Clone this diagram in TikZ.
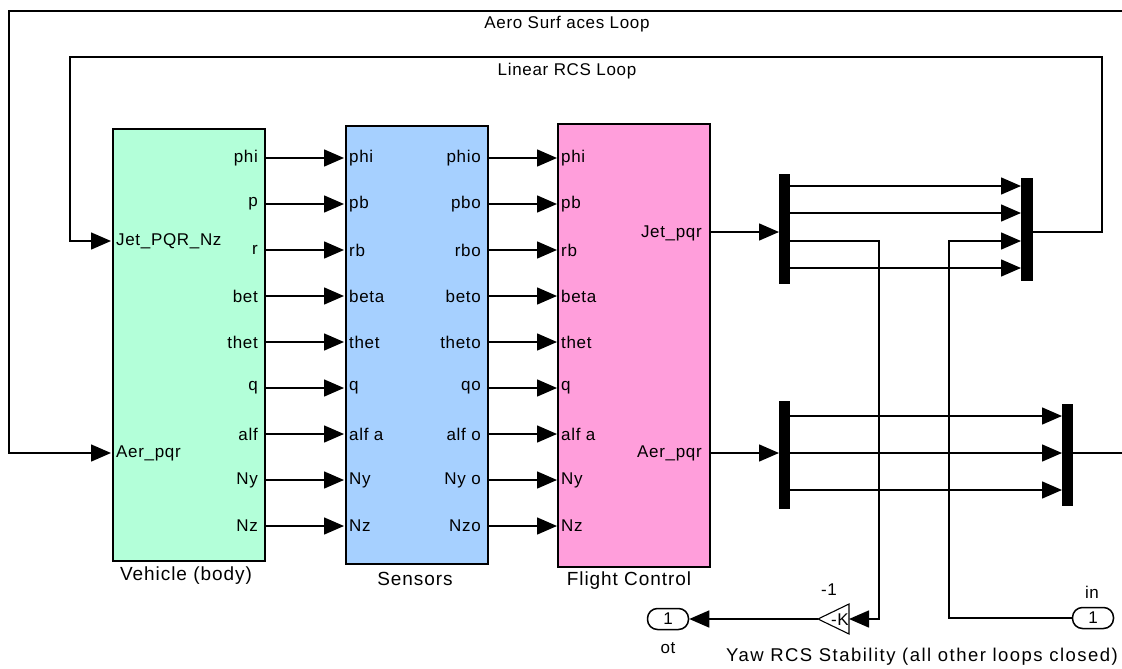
\documentclass[tikz,border=0pt]{standalone}
\usepackage{fontspec}
\setmainfont{Liberation Sans}
\usetikzlibrary{arrows.meta,shapes.geometric}
\definecolor{vgreen}{RGB}{179,255,217}
\definecolor{sblue}{RGB}{166,208,255}
\definecolor{fpink}{RGB}{255,158,219}
\tikzset{
  wire/.style={line width=1.5pt},
  sig/.style={wire,-{Triangle[length=20pt,width=17pt]}},
  blk/.style={draw,line width=2pt,inner sep=0pt,anchor=north west},
  barblk/.style={fill=black,draw=none,inner sep=0pt,anchor=north west,minimum width=11pt},
  plbl/.style={font=\fontsize{17}{19}\selectfont\addfontfeature{LetterSpace=4},inner sep=0pt},
  tlbl/.style={font=\fontsize{17}{19}\selectfont\addfontfeature{LetterSpace=4},inner sep=0pt},
  blbl/.style={font=\fontsize{19}{21}\selectfont\addfontfeature{LetterSpace=5},inner sep=0pt},
  captxt/.style={font=\fontsize{18.5}{20}\selectfont\addfontfeature{LetterSpace=8},inner sep=0pt},
  portblk/.style={draw,line width=1.5pt,rounded corners=10pt,minimum width=41pt,minimum height=21pt,inner sep=0pt,font=\fontsize{17}{19}\selectfont},
}
\begin{document}
\begin{tikzpicture}[x=1pt,y=-1pt]
\useasboundingbox (0,0) rectangle (1122,669);

% blocks
\node[blk,fill=vgreen,minimum width=152pt,minimum height=432pt] (veh) at (112,128) {};
\node[blk,fill=sblue,minimum width=142pt,minimum height=438pt] (sen) at (345,125) {};
\node[blk,fill=fpink,minimum width=152pt,minimum height=443pt] (fc) at (557,123) {};

\node[blbl] (vehlbl) at (186,576) {Vehicle (body)};
\node[blbl] (senlbl) at (415,579) {Sensors};
\node[blbl] (fclbl) at (629,581) {Flight Control};

% ports and labels
\foreach \i/\y/\a/\b/\c/\d in {1/158/phi/phi/phio/phi, 2/204/p/pb/pbo/pb, 3/250/r/rb/rbo/rb,
  4/296/bet/beta/beto/beta, 5/342/thet/thet/theto/thet, 6/388/q/q/qo/q,
  7/434/alf/alf a/alf o/alf a, 8/480/Ny/Ny/Ny o/Ny, 9/526/Nz/Nz/Nzo/Nz}{
  \coordinate (veh-o\i) at (264,\y);
  \coordinate (sen-i\i) at (344,\y);
  \coordinate (sen-o\i) at (487,\y);
  \coordinate (fc-i\i) at (557,\y);
  \node[plbl,anchor=east] (veh-ol\i) at (258,\y) {\a};
  \node[plbl,anchor=west] (sen-il\i) at (349,\y) {\b};
  \node[plbl,anchor=east] (sen-ol\i) at (481,\y) {\c};
  \node[plbl,anchor=west] (fc-il\i) at (561,\y) {\d};
  \draw[sig] (veh-o\i) -- (sen-i\i);
  \draw[sig] (sen-o\i) -- (fc-i\i);
}

\coordinate (veh-jet) at (111,241);
\coordinate (veh-aer) at (111,453);
\node[plbl,anchor=west] (veh-jetl) at (116,241) {Jet\_PQR\_Nz};
\node[plbl,anchor=west] (veh-aerl) at (116,453) {Aer\_pqr};

\coordinate (fc-jet) at (709,232);
\coordinate (fc-aer) at (709,453);
\node[plbl,anchor=east] (fc-jetl) at (702,233) {Jet\_pqr};
\node[plbl,anchor=east] (fc-aerl) at (702,453) {Aer\_pqr};

% mux / demux bars
\node[barblk,minimum height=110pt] (dm1) at (779,174) {};
\node[barblk,minimum width=12pt,minimum height=103pt] (mx1) at (1021,178) {};
\node[barblk,minimum height=108pt] (dm2) at (779,401) {};
\node[barblk,minimum height=102pt] (mx2) at (1062,404) {};

\draw[sig] (fc-jet) -- (dm1.west |- fc-jet);
\draw[sig] (fc-aer) -- (dm2.west |- fc-aer);

\foreach \y in {186,213,268}{
  \draw[sig] (dm1.east |- 0,\y) -- (mx1.west |- 0,\y);
}
\foreach \y in {416,453,490}{
  \draw[sig] (dm2.east |- 0,\y) -- (mx2.west |- 0,\y);
}

% gain block (triangle pointing left)
\coordinate (gain-apex) at (818,619);
\coordinate (gain-in) at (849,619);
\draw[line width=1.1pt,fill=white,line join=miter] (gain-apex) -- (849,604) -- (849,634) -- cycle;
\node[plbl] (gainlbl) at (829,590) {-1};

\node[portblk] (outp) at (668,619) {1};
\node[plbl] (outlbl) at (668,648) {ot};
\node[portblk] (inp) at (1093,618) {1};
\node[plbl] (inlbl) at (1092,592) {in};

\coordinate (d1o3) at (790,241);
\coordinate (m1i3) at (1021,241);
\draw[sig] (d1o3) -- (879,241) -- (879,619) -- (gain-in);
\node[plbl] (gaintxt) at (840,620) {-K};
\draw[sig] (inp.west) -- (949,618) -- (949,241) -- (m1i3);
\draw[sig] (gain-apex) -- (outp.east);

\node[captxt] (caption) at (922,657) {Yaw RCS Stability (all other loops closed)};

% loops
\coordinate (m1o) at (1033,232);
\draw[sig] (m1o) -- (1102,232) -- (1102,57) -- (70,57) -- (70,241) -- (veh-jet);
\node[tlbl] (rcsl) at (567,71) {Linear RCS Loop};

\coordinate (m2o) at (1073,453);
\coordinate (redge) at (1122,453);
\draw[wire] (m2o) -- (redge);
\coordinate (tedge) at (1122,11);
\draw[sig] (tedge) -- (9,11) -- (9,453) -- (veh-aer);
\node[tlbl] (aerol) at (567,24) {Aero Surf aces Loop};
\end{tikzpicture}
\end{document}
